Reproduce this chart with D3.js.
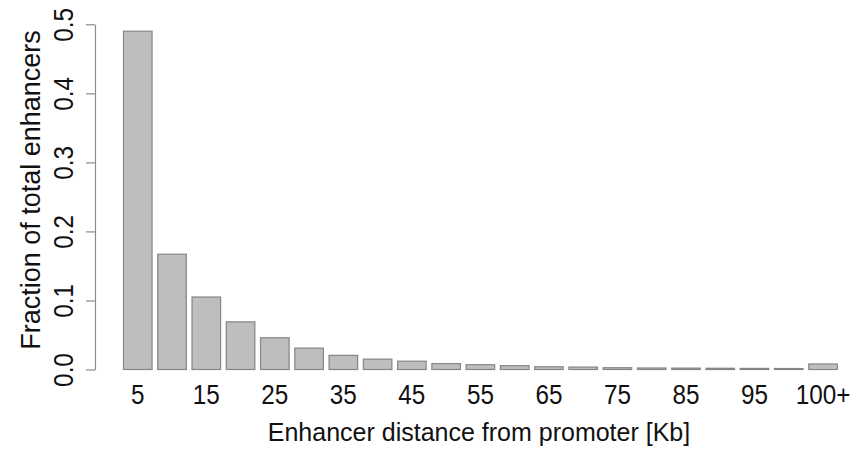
<!DOCTYPE html>
<html>
<head>
<meta charset="utf-8">
<script src="https://cdn.jsdelivr.net/npm/d3@7"></script>
<style>
  html, body { margin: 0; padding: 0; background: #fff; }
  svg text { font-family: "Liberation Sans", Arial, sans-serif; fill: #111; }
</style>
</head>
<body>
<svg id="chart" width="854" height="452"></svg>
<script>
// Distance bins (Kb) and the fraction of enhancers falling in each one
const categories = ["5","10","15","20","25","30","35","40","45","50",
                    "55","60","65","70","75","80","85","90","95","100","100+"];
const fractions = [0.490, 0.167, 0.105, 0.069, 0.046, 0.031, 0.0205, 0.015, 0.012, 0.0085,
                   0.007, 0.0055, 0.004, 0.0035, 0.0026, 0.0022, 0.0020, 0.0018, 0.0016, 0.0014, 0.008];
// Only every other bin is labelled on the x axis
const xTickLabels = ["5","15","25","35","45","55","65","75","85","95","100+"];
const yTicks = [0, 0.1, 0.2, 0.3, 0.4, 0.5];

const xTitle = "Enhancer distance from promoter [Kb]";
const yTitle = "Fraction of total enhancers";

const svg = d3.select("#chart");
const tickFont = 27;     // drawn slightly condensed
const xTitleFont = 25;
const yTitleFont = 27;

const x = d3.scaleBand()
  .domain(categories)
  .range([123.5, 837.3])
  .paddingInner(1 / 6)
  .paddingOuter(0);

const y = d3.scaleLinear()
  .domain([0, 0.5])
  .range([369.5, 24.3]);

// Bars
svg.append("g")
  .selectAll("rect")
  .data(categories.map((c, i) => ({ c, v: fractions[i] })))
  .join("rect")
  .attr("x", d => x(d.c))
  .attr("width", x.bandwidth())
  .attr("y", d => y(d.v))
  .attr("height", d => y(0) - y(d.v))
  .attr("fill", "#bebebe")
  .attr("stroke", "#858585")
  .attr("stroke-width", 1.2);

// Y axis
const yAxis = svg.append("g")
  .attr("transform", "translate(95,0)")
  .call(d3.axisLeft(y).tickValues(yTicks).tickFormat(d3.format(".1f")).tickSize(9).tickSizeOuter(0));
yAxis.selectAll("path, line").attr("stroke", "#8c8c8c").attr("stroke-width", 1.2);
yAxis.selectAll("text")
  .attr("font-size", tickFont)
  .attr("font-family", null)
  .attr("text-anchor", "middle")
  .attr("x", null)
  .attr("dy", null)
  .attr("dominant-baseline", "central")
  .attr("transform", "translate(-31.5,0) rotate(-90) scale(0.9,1)");

// X axis labels
const xAxis = svg.append("g")
  .attr("transform", `translate(0,${y(0)})`)
  .call(d3.axisBottom(x).tickValues(xTickLabels).tickSize(0));
xAxis.select(".domain").remove();
xAxis.selectAll("text")
  .attr("font-size", tickFont)
  .attr("font-family", null)
  .attr("y", 34.5)
  .attr("dy", null)
  .attr("transform", "scale(0.9,1)");

// Axis titles
svg.append("text")
  .attr("x", 479)
  .attr("y", 441)
  .attr("text-anchor", "middle")
  .attr("font-size", xTitleFont)
  .text(xTitle);

svg.append("text")
  .attr("transform", "translate(40,190) rotate(-90)")
  .attr("text-anchor", "middle")
  .attr("font-size", yTitleFont)
  .text(yTitle);
</script>
</body>
</html>
